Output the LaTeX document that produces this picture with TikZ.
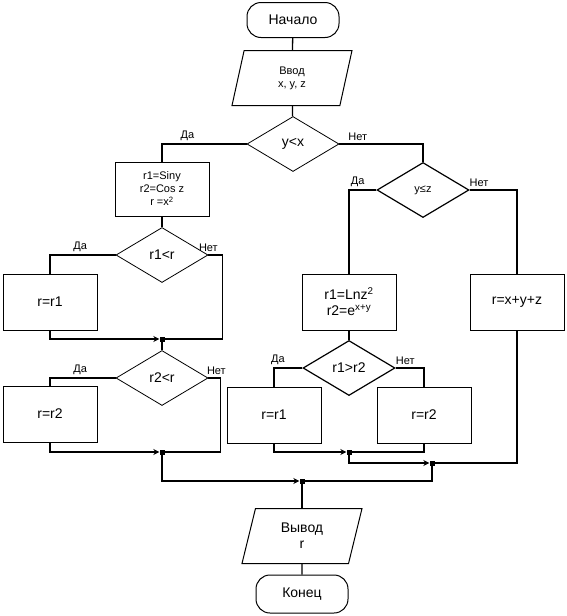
\documentclass[tikz,border=0pt]{standalone}
\usepackage{fontspec}
\setmainfont{Liberation Sans}
\usetikzlibrary{shapes.geometric,arrows.meta}

\begin{document}
\begin{tikzpicture}[
    x=1pt, y=-1pt,
    every node/.style={font=\fontsize{14}{16}\selectfont},
    term/.style={rectangle, draw, line width=1pt, rounded corners=14pt, minimum width=92pt, minimum height=35pt},
    io/.style={trapezium, draw, line width=1pt, trapezium left angle=64, trapezium right angle=116, trapezium stretches body=true, minimum width=120pt, minimum height=55pt, align=center, inner sep=1pt},
    box/.style={rectangle, draw, line width=1pt, minimum width=94pt, minimum height=56pt, align=center},
    cond/.style={diamond, draw, line width=0.8pt, minimum width=92pt, minimum height=55pt, inner sep=0pt},
    dot/.style={rectangle, fill, minimum size=5pt, inner sep=0pt},
    small/.style={font=\fontsize{11}{13}\selectfont},
    lab/.style={font=\fontsize{11}{13}\selectfont, inner sep=3pt},
    line/.style={line width=1.3pt},
    arrow/.style={line, -{Stealth[length=6pt, width=6pt, inset=2pt]}}
]
\useasboundingbox (0,0) rectangle (567,616);

\node[term] (start) at (293,20) {Начало};
\node[io, small] (input) at (292,78) {Ввод\\x, y, z};
\node[cond] (c1) at (293,144) {y<x};

\node[box, small, minimum height=54pt] (b1) at (162,189) {r1=Siny\\r2=Cos z\\r =x\textsuperscript{2}};
\node[cond] (c3) at (162,255) {r1<r};
\node[box] (b2) at (50,302) {r=r1};
\node[dot] (j1) at (162,339) {};
\node[cond] (c4) at (162,378) {r2<r};
\node[box] (b3) at (50,414) {r=r2};
\node[dot] (j2) at (162,452) {};

\node[cond, small, line width=1.2pt] (c2) at (423,190) {y≤z};
\node[box] (b4) at (349,302) {r1=Lnz\textsuperscript{2}\\r2=e\textsuperscript{x+y}};
\node[box] (b5) at (517,302) {r=x+y+z};
\node[cond, line width=1.2pt] (c5) at (349,368) {r1>r2};
\node[box] (b6) at (274,415) {r=r1};
\node[box] (b7) at (424,415) {r=r2};
\node[dot] (j3) at (349,452) {};
\node[dot] (j4) at (432,463) {};
\node[dot] (j5) at (302,481) {};

\node[io] (output) at (302,536) {Вывод\\r};
\node[term, minimum height=38pt] (stop) at (302,594) {Конец};

\coordinate (c3r) at ([xshift=14pt]c3.east);
\coordinate (c4r) at ([xshift=12pt]c4.east);

\draw[line] (start) -- (input);
\draw[line] (input) -- (c1);
\draw[line] (c1.west) -| node[lab, above, pos=0.35] {Да} (b1.north);
\draw[line] (c1.east) -| node[lab, above, pos=0.11] {Нет} (c2.north);

\draw[line] (b1) -- (c3);
\draw[line] (c3.west) -| node[lab, above, pos=0.27] {Да} (b2.north);
\draw[line] (c3.east) node[lab, above] {Нет} -- (c3r) |- (j1);
\draw[arrow] (b2.south) |- (j1);
\draw[line] (j1) -- (c4);
\draw[line] (c4.west) -| node[lab, above, pos=0.27] {Да} (b3.north);
\draw[line] (c4.east) node[lab, above, xshift=8pt] {Нет} -- (c4r) |- (j2);
\draw[arrow] (b3.south) |- (j2);
\draw[arrow] (j2) |- (j5);

\draw[line] (c2.west) -| node[lab, above, pos=0.34] {Да} (b4.north);
\draw[line] (c2.east) -| node[lab, above, pos=0.1] {Нет} (b5.north);
\draw[line] (b4) -- (c5);
\draw[line] (c5.west) -| node[lab, above, pos=0.43] {Да} (b6.north);
\draw[line] (c5.east) -| node[lab, above, pos=0.17] {Нет} (b7.north);
\draw[arrow] (b6.south) |- (j3);
\draw[line] (b7.south) |- (j3);
\draw[arrow] (j3) |- (j4);
\draw[line] (b5.south) |- (j4);
\draw[line] (j4) |- (j5);

\draw[line] (j5) -- (output);
\draw[line] (output) -- (stop);
\end{tikzpicture}
\end{document}
